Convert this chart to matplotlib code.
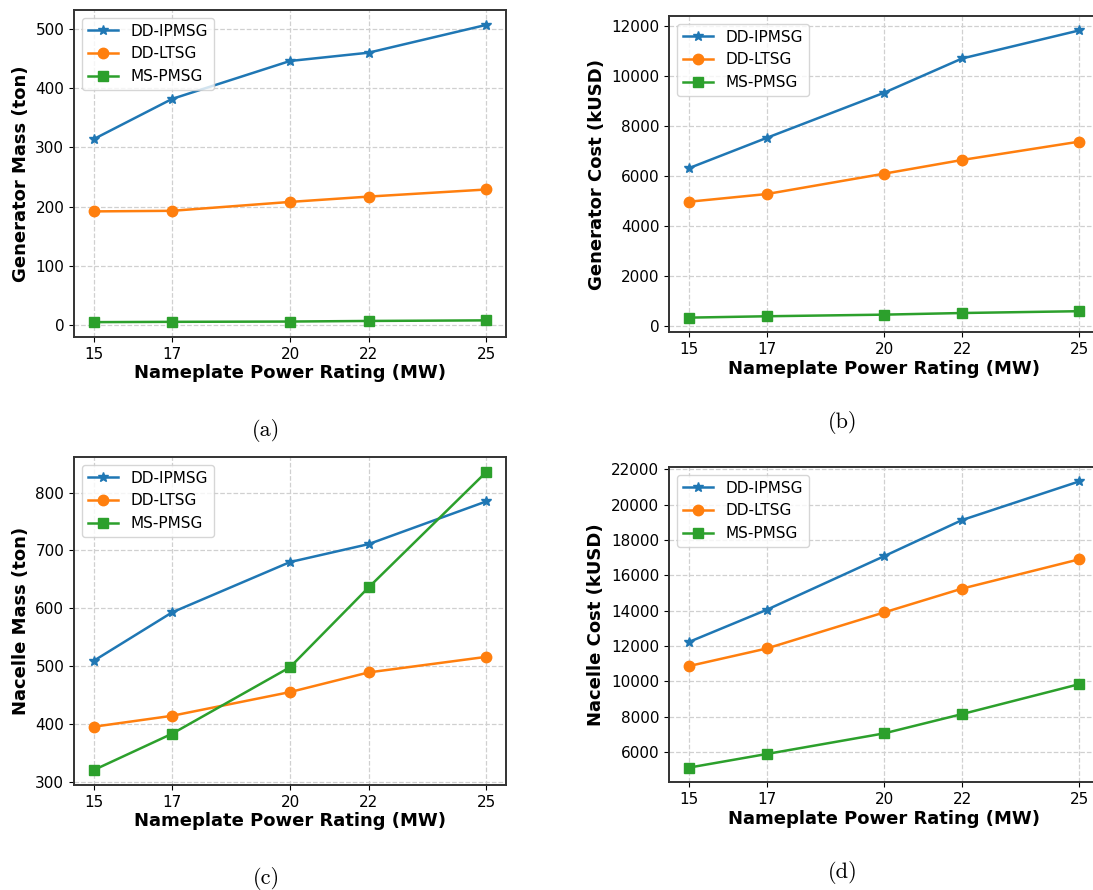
import matplotlib.pyplot as plt

# Nameplate power ratings (MW)
ratings = [15, 17, 20, 22, 25]
series_names = ['DD-IPMSG', 'DD-LTSG', 'MS-PMSG']

# Generator mass (ton)
gen_mass_ipmsg = [314, 382, 446, 460, 507]
gen_mass_ltsg = [192, 193, 208, 217, 229]
gen_mass_mspmsg = [5, 5.5, 6, 7, 8]

# Generator cost (kUSD)
gen_cost_ipmsg = [6300, 7520, 9325, 10700, 11825]
gen_cost_ltsg = [4960, 5270, 6085, 6635, 7370]
gen_cost_mspmsg = [320, 375, 440, 505, 578]

# Nacelle mass (ton)
nac_mass_ipmsg = [509, 593, 680, 711, 785]
nac_mass_ltsg = [395, 414, 455, 489, 516]
nac_mass_mspmsg = [320, 383, 498, 636, 836]

# Nacelle cost (kUSD)
nac_cost_ipmsg = [12220, 14050, 17080, 19130, 21320]
nac_cost_ltsg = [10860, 11860, 13900, 15250, 16910]
nac_cost_mspmsg = [5115, 5890, 7055, 8150, 9845]

markers = ['*', 'o', 's']
colors = ['#1f77b4', '#ff7f0e', '#2ca02c']

W, H = 1093, 890
fig = plt.figure(figsize=(W / 100, H / 100), dpi=100)


def px_axes(left, top, right, bottom):
    # convert pixel box to figure fraction
    return fig.add_axes([left / W, 1 - bottom / H, (right - left) / W, (bottom - top) / H])


panels = [
    (px_axes(74, 10, 506, 337), [gen_mass_ipmsg, gen_mass_ltsg, gen_mass_mspmsg],
     'Generator Mass (ton)', '(a)', 266, 430),
    (px_axes(669, 16, 1099, 332), [gen_cost_ipmsg, gen_cost_ltsg, gen_cost_mspmsg],
     'Generator Cost (kUSD)', '(b)', 843, 422),
    (px_axes(74, 457, 506, 785), [nac_mass_ipmsg, nac_mass_ltsg, nac_mass_mspmsg],
     'Nacelle Mass (ton)', '(c)', 266, 878),
    (px_axes(669, 467, 1099, 782), [nac_cost_ipmsg, nac_cost_ltsg, nac_cost_mspmsg],
     'Nacelle Cost (kUSD)', '(d)', 843, 872),
]

for ax, data, ylabel, caption, cx, cy in panels:
    for vals, name, m, c in zip(data, series_names, markers, colors):
        ms = 7.5 if m == '*' else 7.5
        ax.plot(ratings, vals, marker=m, color=c, label=name, linewidth=1.8, markersize=ms)
    ax.set_xticks(ratings)
    ax.set_xlabel('Nameplate Power Rating (MW)', fontsize=13, fontweight='bold', labelpad=2)
    ax.set_ylabel(ylabel, fontsize=13, fontweight='bold')
    ax.tick_params(labelsize=11)
    ax.grid(True, linestyle='--', color='#d0d0d0', linewidth=0.9)
    for sp in ax.spines.values():
        sp.set_color('#333333')
        sp.set_linewidth(1.4)
    ax.legend(loc='upper left', fontsize=11)
    fig.text(cx / W, 1 - cy / H, caption, fontsize=16, family='cmr10',
             ha='center', va='center')

fig.savefig('out.png', dpi=100)
